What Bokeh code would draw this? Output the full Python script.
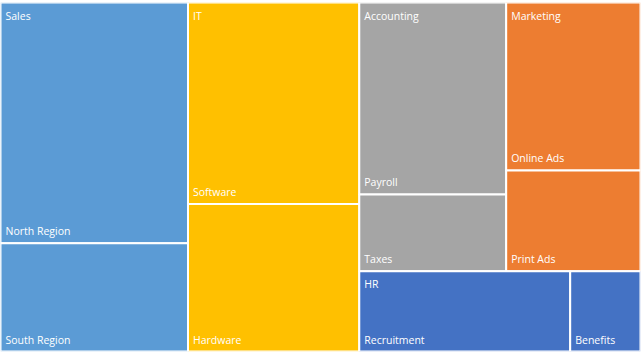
from bokeh.plotting import figure
from bokeh.models import Range1d
from bokeh.embed import file_html
from bokeh.resources import INLINE
from bokeh.core.properties import value

# ---- data ----
groups = ["Sales", "IT", "Accounting", "Marketing", "HR"]
group_colors = ["#5B9BD5", "#FFC000", "#A5A5A5", "#ED7D31", "#4472C4"]
sales_names = ["North Region", "South Region"]
sales_values = [200, 90]
it_names = ["Software", "Hardware"]
it_values = [153, 112]
accounting_names = ["Payroll", "Taxes"]
accounting_values = [125, 50]
marketing_names = ["Online Ads", "Print Ads"]
marketing_values = [100, 60]
hr_names = ["Recruitment", "Benefits"]
hr_values = [75, 25]

leaf_names = [sales_names, it_names, accounting_names, marketing_names, hr_names]
leaf_values = [sales_values, it_values, accounting_values, marketing_values, hr_values]

W, H = 640, 349


def worst(row, length, scale):
    s = sum(row) * scale
    thick = s / length
    r = 0.0
    for v in row:
        l = v * scale / thick
        r = max(r, thick / l, l / thick)
    return r


def squarify(values, x, y, w, h):
    scale = w * h / sum(values)
    rects = [None] * len(values)
    i = 0
    n = len(values)
    while i < n:
        length = min(w, h)
        row = [i]
        j = i + 1
        while j < n:
            cur = worst([values[k] for k in row], length, scale)
            new = worst([values[k] for k in row + [j]], length, scale)
            if new <= cur:
                row.append(j)
                j += 1
            else:
                break
        s = sum(values[k] for k in row) * scale
        if w >= h:
            thick = s / h
            yy = y
            for k in row:
                hh = values[k] * scale / thick
                rects[k] = (x, yy, thick, hh)
                yy += hh
            x += thick
            w -= thick
        else:
            thick = s / w
            xx = x
            for k in row:
                ww = values[k] * scale / thick
                rects[k] = (xx, y, ww, thick)
                xx += ww
            y += thick
            h -= thick
        i = j
    return rects


group_totals = [sum(v) for v in leaf_values]
group_rects = squarify(group_totals, 0, 0, W, H)

L, R, T, B, C = [], [], [], [], []
lx, ly, lt = [], [], []
gx, gy, gt = [], [], []
for g, col, (x, y, w, h), names, vals in zip(groups, group_colors, group_rects, leaf_names, leaf_values):
    sub = squarify(vals, x, y, w, h)
    for nm, (sx, sy, sw, sh) in zip(names, sub):
        L.append(sx); R.append(sx + sw); T.append(sy); B.append(sy + sh); C.append(col)
        lx.append(sx); ly.append(sy + sh); lt.append(nm)
    gx.append(x); gy.append(y); gt.append(g)

p = figure(width=642, height=353, output_backend="svg", toolbar_location=None,
           x_range=Range1d(0, W), y_range=Range1d(H, 0))
p.min_border_left = 0
p.min_border_right = 2
p.min_border_top = 2
p.min_border_bottom = 2
p.axis.visible = False
p.grid.visible = False
p.outline_line_color = None
p.background_fill_color = "white"
p.border_fill_color = "white"

p.quad(left=L, right=R, top=T, bottom=B, fill_color=C, line_color="white", line_width=2)

p.text(x=gx, y=gy, text=gt, text_color="white", text_font=value("Open Sans"),
       text_font_size="10.5px", x_offset=5, y_offset=6, text_baseline="top")
p.text(x=lx, y=ly, text=lt, text_color="white", text_font=value("Open Sans"),
       text_font_size="10.5px", x_offset=5, y_offset=-12, text_baseline="alphabetic")

open("out.html", "w").write(file_html(p, INLINE))
